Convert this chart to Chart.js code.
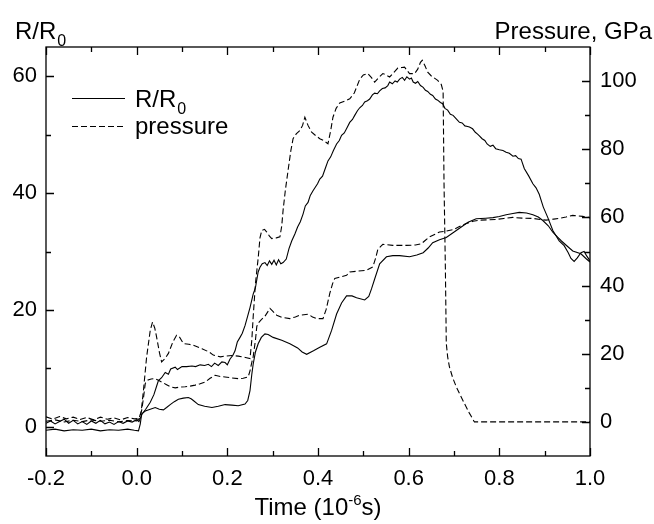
<!DOCTYPE html>
<html><head><meta charset="utf-8">
<script src="https://cdn.jsdelivr.net/npm/chart.js@4.4.0/dist/chart.umd.min.js"></script>
<style>html,body{margin:0;padding:0;background:#fff}</style>
</head><body>
<canvas id="c" width="654" height="524"></canvas>
<script>
// ---- axis ticks ----
const xTicks = [-0.2, 0.0, 0.2, 0.4, 0.6, 0.8, 1.0];
const leftTicks = [0, 20, 40, 60];
const rightTicks = [0, 20, 40, 60, 80, 100];

// ---- R/R0, upper curve (solid) ----
const timeA = [-0.2,-0.19,-0.18,-0.17,-0.16,-0.15,-0.14,-0.13,-0.12,-0.11,-0.10,-0.09,-0.08,-0.07,-0.06,-0.05,-0.04,-0.03,-0.02,-0.01,0.0,0.005,
 0.012,0.02,0.03,0.038,0.045,0.048,0.055,0.063,0.07,0.075,0.085,0.09,0.1,0.11,0.122,0.13,0.14,0.15,0.158,0.165,0.172,0.18,0.188,0.195,0.2,0.206,0.212,0.217,0.222,0.228,0.233,0.239,0.245,0.25,0.257,0.262,0.268,0.272,0.277,0.283,0.288,0.293,0.298,0.303,0.308,0.313,0.318,0.323,0.33,0.336,0.342,0.349,0.355,0.361,0.367,0.372,0.378,0.383,0.389,0.394,0.399,0.404,0.41,0.416,0.422,0.428,0.434,0.441,0.447,0.452,0.458,0.464,0.47,0.476,0.481,0.487,0.492,0.498,0.503,0.509,0.514,0.52,0.525,0.531,0.536,0.542,0.548,0.554,0.558,0.564,0.57,0.575,0.58,0.586,0.591,0.596,0.602,0.606,0.61,0.615,0.62,0.626,0.632,0.637,0.642,0.648,0.653,0.659,0.664,0.67,0.675,0.68,0.686,0.692,0.698,0.705,0.712,0.718,0.724,0.73,0.734,0.741,0.747,0.752,0.756,0.762,0.768,0.773,0.78,0.786,0.792,0.80,0.808,0.815,0.822,0.83,0.836,0.842,0.848,0.855,0.865,0.874,0.881,0.888,0.897,0.907,0.918,0.932,0.943,0.952,0.958,0.965,0.972,0.98,0.987,0.993,1.0];
const ratioA = [0.6,1.0,0.5,0.9,1.3,0.6,1.1,0.5,0.9,0.4,1.0,0.6,1.1,0.5,0.8,0.4,0.9,0.6,1.0,0.8,1.2,0.9,
 2.2,3.0,4.2,5.5,7.2,7.9,8.4,9.3,9.0,9.9,10.2,9.8,10.3,10.3,10.4,10.3,10.6,10.5,10.7,10.3,10.9,10.5,11.1,11.0,10.6,11.6,12.2,13.0,14.5,15.3,16.0,17.3,19.0,20.4,22.7,23.8,26.5,27.3,27.9,28.1,27.6,28.4,27.8,28.5,27.7,28.6,27.9,28.1,28.7,30.5,31.8,33.0,34.2,35.1,36.4,37.8,38.4,39.6,40.4,41.0,41.6,42.4,42.9,44.2,45.5,46.2,47.3,48.4,49.0,49.9,50.3,51.2,52.1,52.6,53.3,54.1,54.6,55.0,55.6,55.8,56.1,56.8,57.1,57.0,57.5,57.9,58.0,58.4,59.0,58.7,59.2,59.0,59.5,59.8,59.3,59.9,59.5,59.7,59.0,58.8,59.1,58.4,58.1,57.6,57.4,56.9,56.7,56.1,55.9,55.5,55.3,54.5,54.2,53.5,53.3,52.7,52.1,52.0,51.5,51.4,51.3,51.0,50.4,50.1,49.8,49.3,49.0,48.4,48.0,48.2,47.6,47.4,47.3,47.0,46.8,46.3,46.4,45.9,45.8,44.2,42.9,41.6,40.9,39.8,37.6,35.8,33.6,31.8,31.0,29.8,28.8,28.3,28.9,29.8,30.0,29.2,28.4];

// ---- R/R0, lower curve (solid) ----
const timeB = [-0.2,-0.18,-0.16,-0.14,-0.12,-0.10,-0.08,-0.06,-0.04,-0.02,-0.005,0.004,0.008,0.011,0.019,0.03,0.041,0.05,0.059,0.066,0.074,0.083,0.092,0.103,0.114,0.12,0.125,0.136,0.15,0.166,0.18,0.195,0.21,0.224,0.239,0.245,0.25,0.254,0.257,0.262,0.268,0.275,0.283,0.29,0.301,0.32,0.338,0.355,0.365,0.375,0.39,0.404,0.419,0.43,0.441,0.452,0.463,0.475,0.485,0.503,0.512,0.518,0.525,0.536,0.551,0.565,0.58,0.602,0.618,0.632,0.643,0.653,0.668,0.683,0.705,0.72,0.731,0.749,0.77,0.786,0.80,0.815,0.83,0.844,0.86,0.874,0.886,0.896,0.908,0.918,0.928,0.937,0.95,0.962,0.98,0.991,1.0];
const ratioB = [-0.6,-0.4,-0.7,-0.5,-0.6,-0.4,-0.7,-0.5,-0.6,-0.4,-0.6,-0.7,0.5,2.2,2.7,3.0,3.3,3.0,2.9,3.3,3.8,4.3,4.7,4.9,5.0,4.8,4.5,3.8,3.5,3.3,3.5,3.8,3.7,3.6,3.9,4.5,6.2,9.0,10.7,12.8,14.2,15.3,15.9,15.8,15.3,14.8,14.2,13.5,12.8,12.4,13.0,13.6,14.2,16.5,19.3,21.2,22.4,22.4,22.1,21.7,22.3,23.6,25.3,27.9,29.1,29.3,29.3,29.1,29.4,29.8,30.6,31.5,32.0,32.4,33.6,34.4,35.0,35.6,35.7,35.8,36.0,36.3,36.5,36.7,36.6,36.3,35.9,35.3,34.4,33.3,32.5,31.8,30.9,30.1,29.6,28.8,28.2];

// ---- pressure, upper curve (dashed) ----
const timeC = [-0.2,-0.185,-0.17,-0.155,-0.14,-0.125,-0.11,-0.095,-0.08,-0.065,-0.05,-0.035,-0.02,-0.005,0.005,0.01,0.015,0.022,0.03,0.035,0.04,0.044,0.05,0.055,0.062,0.07,0.08,0.088,0.095,0.103,0.115,0.125,0.144,0.16,0.169,0.185,0.195,0.21,0.224,0.24,0.25,0.254,0.257,0.262,0.268,0.272,0.276,0.282,0.287,0.293,0.298,0.308,0.316,0.32,0.323,0.328,0.334,0.34,0.345,0.352,0.36,0.366,0.371,0.378,0.386,0.395,0.404,0.413,0.422,0.428,0.433,0.44,0.448,0.46,0.47,0.48,0.492,0.5,0.51,0.518,0.525,0.535,0.543,0.55,0.558,0.567,0.576,0.585,0.591,0.597,0.602,0.613,0.62,0.626,0.63,0.636,0.642,0.65,0.664,0.672,0.676,0.678,0.681,0.683,0.686,0.69,0.697,0.705,0.714,0.723,0.733,0.745,1.0];
const pressC = [1.5,0.8,1.6,0.9,1.4,0.7,1.3,0.6,1.4,0.8,1.2,0.6,1.3,0.9,1.0,3.0,9.3,19.1,26.9,29.3,27.5,24.9,20.5,17.6,18.5,20.1,23.5,25.4,24.8,23.0,22.8,22.5,21.5,20.5,19.6,19.1,19.3,19.5,19.3,18.9,18.6,24.0,30.8,40.6,48.0,54.0,56.2,56.5,55.7,54.5,53.8,54.0,54.3,57.5,62.1,68.0,73.8,79.5,83.1,84.5,85.5,87.0,89.4,87.0,85.0,84.0,83.1,82.5,81.6,85.5,89.4,92.0,93.6,94.2,94.8,96.5,100.5,101.8,102.2,101.0,99.7,101.2,102.2,101.8,101.2,102.5,103.8,104.0,104.1,103.0,102.2,102.2,103.5,105.5,106.1,104.5,102.6,101.5,100.2,99.0,97.0,70.0,45.0,23.0,19.1,16.1,13.0,10.3,7.8,5.4,2.8,0.0,0.0];

// ---- pressure, lower curve (dashed) ----
const timeD = [-0.2,-0.18,-0.16,-0.14,-0.12,-0.10,-0.08,-0.06,-0.04,-0.02,0.0,0.006,0.011,0.015,0.019,0.025,0.032,0.041,0.048,0.055,0.065,0.075,0.085,0.095,0.107,0.118,0.129,0.14,0.151,0.162,0.173,0.185,0.195,0.21,0.224,0.235,0.246,0.25,0.254,0.257,0.262,0.265,0.268,0.275,0.283,0.294,0.3,0.309,0.32,0.338,0.35,0.36,0.378,0.388,0.397,0.411,0.418,0.426,0.432,0.437,0.448,0.463,0.47,0.485,0.507,0.521,0.527,0.532,0.543,0.565,0.595,0.615,0.628,0.637,0.646,0.668,0.683,0.698,0.712,0.727,0.742,0.756,0.775,0.793,0.81,0.83,0.85,0.874,0.89,0.903,0.92,0.935,0.947,0.962,0.975,0.984,0.995,1.0];
const pressD = [0.2,0.6,0.0,0.5,0.1,0.6,0.2,0.5,0.0,0.4,0.3,1.0,3.4,7.0,11.3,12.3,12.6,12.7,12.2,11.7,11.0,10.3,10.0,10.2,10.3,10.5,10.8,11.2,11.7,12.8,13.7,13.3,13.2,12.9,12.7,12.8,13.2,15.0,17.5,19.1,24.0,28.0,29.0,30.0,31.0,33.3,32.5,31.3,30.7,30.3,30.8,31.3,31.6,30.8,30.3,30.3,33.0,37.7,40.5,42.1,42.5,43.0,44.0,44.2,44.5,45.5,48.0,50.6,52.1,51.8,51.8,51.9,52.3,53.3,54.3,55.7,56.0,56.4,57.3,58.2,58.9,59.2,59.3,59.4,59.7,60.0,59.8,59.7,59.4,59.2,59.5,59.8,60.1,60.6,60.4,60.3,60.1,59.8];

const FONT = '"Liberation Sans", Arial, Helvetica, sans-serif';
function pts(t, v) { return t.map((x, i) => ({ x: x, y: v[i] })); }
function lineDs(label, t, v, axis, dash) {
  return { label: label, data: pts(t, v), yAxisID: axis, borderColor: '#000', backgroundColor: '#000',
    borderWidth: 1.1, borderDash: dash, pointRadius: 0, fill: false, tension: 0 };
}

function midpoints(arr) { const m = []; for (let i = 0; i < arr.length - 1; i++) m.push((arr[i] + arr[i + 1]) / 2); return m; }

const decor = {
  id: 'decor',
  afterDraw(chart) {
    const ctx = chart.ctx, a = chart.chartArea, s = chart.scales;
    ctx.save();
    ctx.strokeStyle = '#000';
    ctx.lineWidth = 1.3;
    ctx.strokeRect(a.left, a.top, a.right - a.left, a.bottom - a.top);
    const MAJ = 8, MIN = 5;
    ctx.beginPath();
    const xt = (vals, len) => vals.forEach(v => {
      const p = Math.round(s.x.getPixelForValue(v)) + 0.5;
      ctx.moveTo(p, a.bottom); ctx.lineTo(p, a.bottom - len);
      ctx.moveTo(p, a.top); ctx.lineTo(p, a.top + len);
    });
    xt(xTicks, MAJ); xt(midpoints(xTicks), MIN);
    const yl = (vals, len) => vals.forEach(v => {
      const p = Math.round(s.y.getPixelForValue(v)) + 0.5;
      ctx.moveTo(a.left, p); ctx.lineTo(a.left + len, p);
    });
    yl(leftTicks, MAJ); yl(midpoints(leftTicks), MIN);
    const yr = (vals, len) => vals.forEach(v => {
      const p = Math.round(s.y2.getPixelForValue(v)) + 0.5;
      ctx.moveTo(a.right, p); ctx.lineTo(a.right - len, p);
    });
    yr(rightTicks, MAJ); yr(midpoints(rightTicks), MIN);
    ctx.stroke();

    ctx.fillStyle = '#000';
    ctx.textBaseline = 'alphabetic';
    // left title R/R0
    ctx.font = '24px ' + FONT;
    ctx.textAlign = 'left';
    ctx.fillText('R/R', 15, 39);
    let w = ctx.measureText('R/R').width;
    ctx.font = '16px ' + FONT;
    ctx.fillText('0', 15 + w + 1, 46);
    // right title
    ctx.font = '24px ' + FONT;
    ctx.textAlign = 'right';
    ctx.fillText('Pressure, GPa', 652, 39);
    // x title
    ctx.textAlign = 'left';
    const p1 = 'Time (10', p2 = '-6', p3 = 's)';
    ctx.font = '24px ' + FONT; const w1 = ctx.measureText(p1).width, w3 = ctx.measureText(p3).width;
    ctx.font = '15px ' + FONT; const w2 = ctx.measureText(p2).width;
    const cx = (a.left + a.right) / 2;
    let x0 = cx - (w1 + w2 + w3) / 2;
    const by = 515;
    ctx.font = '24px ' + FONT; ctx.fillText(p1, x0, by);
    ctx.font = '15px ' + FONT; ctx.fillText(p2, x0 + w1, by - 10);
    ctx.font = '24px ' + FONT; ctx.fillText(p3, x0 + w1 + w2, by);

    // legend
    ctx.lineWidth = 1.1;
    ctx.beginPath(); ctx.setLineDash([]);
    ctx.moveTo(72, 98.5); ctx.lineTo(125, 98.5); ctx.stroke();
    ctx.beginPath(); ctx.setLineDash([6, 3]);
    ctx.moveTo(72, 126.5); ctx.lineTo(125, 126.5); ctx.stroke();
    ctx.setLineDash([]);
    ctx.font = '24px ' + FONT;
    ctx.fillText('R/R', 135, 107);
    w = ctx.measureText('R/R').width;
    ctx.font = '16px ' + FONT;
    ctx.fillText('0', 135 + w + 1, 114);
    ctx.font = '24px ' + FONT;
    ctx.fillText('pressure', 135, 134);
    ctx.restore();
  }
};

new Chart(document.getElementById('c'), {
  type: 'line',
  data: {
    datasets: [
      lineDs('R/R0', timeA, ratioA, 'y', []),
      lineDs('R/R0 (2)', timeB, ratioB, 'y', []),
      lineDs('pressure', timeC, pressC, 'y2', [6, 3]),
      lineDs('pressure (2)', timeD, pressD, 'y2', [6, 3])
    ]
  },
  options: {
    responsive: false,
    animation: false,
    devicePixelRatio: 1,
    layout: { padding: { top: 47, left: 0, right: 0, bottom: 0 } },
    plugins: { legend: { display: false }, tooltip: { enabled: false } },
    scales: {
      x: {
        type: 'linear', position: 'bottom', min: -0.2, max: 1.0,
        afterBuildTicks: sc => { sc.ticks = xTicks.map(v => ({ value: v })); },
        afterFit: sc => { sc.height = 68; },
        grid: { display: false, drawTicks: false },
        border: { display: false },
        ticks: { color: '#000', font: { family: FONT, size: 22 }, padding: 10, maxRotation: 0,
          callback: v => Number(v).toFixed(1) }
      },
      y: {
        type: 'linear', position: 'left', min: -5, max: 65,
        afterBuildTicks: sc => { sc.ticks = leftTicks.map(v => ({ value: v })); },
        afterFit: sc => { sc.width = 46; },
        grid: { display: false, drawTicks: false },
        border: { display: false },
        ticks: { color: '#000', font: { family: FONT, size: 22 }, padding: 9, callback: v => String(v) }
      },
      y2: {
        type: 'linear', position: 'right', min: -10, max: 110,
        afterBuildTicks: sc => { sc.ticks = rightTicks.map(v => ({ value: v })); },
        afterFit: sc => { sc.width = 64; },
        grid: { display: false, drawTicks: false },
        border: { display: false },
        ticks: { color: '#000', font: { family: FONT, size: 22 }, padding: 10, callback: v => String(v) }
      }
    }
  },
  plugins: [decor]
});
</script>
</body></html>
